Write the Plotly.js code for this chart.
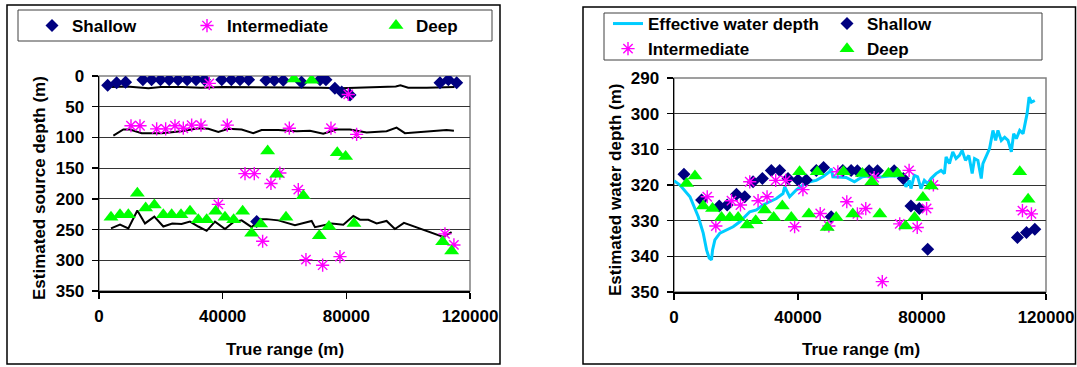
<!DOCTYPE html>
<html><head><meta charset="utf-8">
<script src="https://cdn.plot.ly/plotly-3.0.1.min.js"></script>
<style>html,body{margin:0;padding:0;background:#fff}#chart{width:1077px;height:367px}</style>
</head><body><div id="chart"></div>
<script>
// ---------- Left panel: estimated source depth ----------
const shallowL_x = [2800, 5700, 8600, 14200, 17000, 19900, 22700, 25600, 28500, 31400, 34100, 39700, 42800, 45600, 48400, 51000, 54000, 56700, 59600, 65500, 71500, 73400, 76300, 78500, 81200, 110300, 113000, 115700];
const shallowL_y = [15, 11, 10, 6, 6, 6, 6, 6, 6, 6, 6, 6, 6, 6, 6, 237, 7, 7, 7, 10, 6, 6, 20, 26, 31, 11, 6, 11];

const interL_x = [10350, 13260, 18650, 21560, 24580, 27270, 29970, 32990, 35680, 38600, 41500, 47220, 50230, 52930, 55620, 58500, 61560, 64460, 66940, 72340, 75030, 77940, 80630, 83330, 111900, 114800];
const interL_y = [81, 81, 86, 86, 81, 85, 80, 80, 12, 209, 80, 159, 159, 269, 175, 158, 85, 185, 299, 308, 85, 294, 30, 95, 257, 275];

const deepL_x = [3880, 6790, 9490, 12400, 15090, 17900, 20800, 23500, 26520, 29430, 32120, 34820, 37730, 40750, 43550, 46460, 49370, 52280, 54550, 57460, 60480, 63060, 66080, 68780, 71250, 74380, 77070, 79770, 82470, 111150, 114060];
const deepL_y = [230, 226, 226, 191, 215, 210, 226, 226, 226, 220, 234, 234, 220, 230, 234, 220, 256, 241, 122, 160, 230, 5, 195, 7, 260, 245, 125, 131, 240, 270, 285];

const modelShallow_x = [4000, 9000, 16000, 20000, 27000, 33000, 40000, 47000, 53000, 60000, 66000, 72000, 78000, 84000, 90000, 96000, 97500, 100000, 106000, 112000, 115000];
const modelShallow_y = [18, 17, 20, 18, 18, 19, 18, 18, 19, 18, 18, 19, 20, 19, 19, 17, 15, 19, 19, 19, 18];

const modelInter_x = [4640, 7870, 10000, 13800, 20270, 26700, 32120, 35360, 38600, 41800, 46140, 49900, 52600, 58000, 63920, 68230, 72540, 76850, 81160, 86550, 93020, 96250, 98950, 107000, 112400, 114800];
const modelInter_y = [97, 87, 87, 93, 93, 90, 85, 86, 91, 86, 87, 93, 88, 88, 90, 89, 94, 87, 87, 92, 90, 84, 93, 90, 88, 89];

const modelDeep_x = [3880, 6790, 9490, 12400, 14880, 17900, 20800, 23700, 26700, 29430, 32120, 34820, 37510, 40750, 43440, 46140, 49370, 52070, 54220, 58000, 63380, 68780, 69860, 75250, 79020, 82260, 84420, 87110, 89810, 93020, 95720, 98630, 111350, 114050];
const modelDeep_y = [248, 242, 248, 219, 240, 229, 245, 240, 241, 237, 245, 252, 237, 249, 238, 235, 246, 233, 233, 235, 243, 236, 246, 240, 242, 228, 234, 234, 240, 236, 249, 239, 262, 254];

// ---------- Right panel: estimated water depth ----------
const effective_x = [0, 1930, 5150, 7830, 9430, 10500, 11360, 12100, 12440, 13190, 14800, 16940, 19080, 21230, 22830, 24440, 26590, 28730, 30870, 33020, 35160, 35700, 37300, 39450, 41590, 43740, 45880, 48030, 50170, 50700, 51240, 53380, 55520, 58210, 60780, 62940, 65100, 67260, 69420, 72120, 73740, 74820, 75900, 76440, 77520, 78600, 79670, 80750, 81830, 82910, 84530, 86150, 87230, 87770, 88850, 89930, 91000, 92080, 92950, 94030, 95110, 96190, 96950, 98030, 99110, 99650, 100730, 101800, 102880, 103750, 104500, 105580, 106660, 107740, 108820, 109570, 110440, 111520, 112600, 113140, 113900, 114540, 115300, 116380];
const effective_y = [318.8, 320, 323.3, 328.9, 333.5, 338.2, 340.5, 341, 338.2, 335.4, 333.5, 332.6, 331.7, 330.3, 328.9, 327.5, 327, 325.6, 324.7, 323.8, 322.4, 320.5, 323.3, 321.4, 320, 319.1, 318.7, 317.7, 316.3, 315.4, 317.7, 317.7, 317.9, 319.1, 317.7, 317.5, 317.9, 317.7, 317.5, 317.5, 318.2, 320.5, 318.7, 321, 317.3, 317.7, 321, 318.7, 319.6, 318.2, 316.8, 315.9, 316.8, 312.1, 314, 310.7, 312.6, 311.7, 310.3, 313.1, 311.7, 316.8, 312.6, 313.1, 318.2, 314, 312.1, 309.8, 304.7, 307.5, 304.7, 307.5, 306.6, 307.5, 310.7, 305.6, 307, 304.7, 305.6, 302.8, 300, 295.4, 296.8, 296.3];

const shallowR_x = [3200, 8900, 14600, 17150, 20150, 22830, 25500, 28500, 31400, 34100, 36770, 40000, 42660, 45900, 48240, 50700, 54460, 57140, 59160, 62940, 65640, 71030, 73950, 76440, 79130, 81830, 110780, 113700, 116400];
const shallowR_y = [317, 324.2, 325.9, 325.6, 322.6, 323.3, 319.1, 318.2, 315.9, 315.9, 318.2, 318.6, 318.6, 315.9, 315.1, 328.9, 315.9, 315.9, 316, 316, 316, 316, 318.2, 325.9, 326.6, 338, 334.7, 333.3, 332.4];

const interR_x = [10720, 13500, 18550, 21440, 24440, 27120, 30020, 32800, 36020, 38910, 41590, 47170, 49960, 52850, 55740, 59160, 61860, 64560, 67190, 72820, 75840, 78460, 81480, 83670, 112400, 115300];
const interR_y = [323.3, 331.5, 324.4, 325.6, 319.1, 324.4, 323.3, 318.7, 318.7, 331.7, 321.3, 328, 331.5, 316.3, 324.7, 328.1, 326.6, 317.9, 347.1, 330.9, 315.9, 331.9, 326.6, 320, 327.2, 328.1];

const deepR_x = [4070, 6750, 9430, 12430, 15330, 18000, 20690, 23580, 26370, 29270, 32160, 34950, 37840, 40520, 43520, 46200, 49420, 52310, 54670, 57670, 60780, 63800, 66400, 69200, 72100, 74690, 77600, 80290, 82920, 111530, 114230];
const deepR_y = [319.6, 317.5, 325.9, 326.6, 329.1, 329.1, 329.1, 331.2, 330, 327, 329.1, 325.9, 329.1, 316.3, 328.1, 316.3, 331.9, 329.1, 316.3, 328.1, 316.8, 319.1, 328.1, 316.8, 316.8, 331.5, 329.1, 323.5, 320.3, 316.3, 324];

const xTicks = [0, 40000, 80000, 120000];
const xTickText = ['0', '40000', '80000', '120000'];

// ---------- styling ----------
const FONT = 'Liberation Sans, Arial, sans-serif';
const fnt = (s) => ({family: FONT, size: s, color: '#000', weight: 'bold'});
const NAVY = '#000080', MAG = '#FF00FF', GREEN = '#00FF00', CYAN = '#00CCFF';
const mShallow = {symbol: 'diamond', size: 10, color: NAVY};
const mInter = {symbol: 'asterisk-open', size: 11, color: MAG, line: {color: MAG, width: 1.4}};
const mDeep = {symbol: 'triangle-up', size: 13, color: GREEN};
const blackLine = {color: '#000', width: 2};

const traces = [
  {x: modelShallow_x, y: modelShallow_y, mode: 'lines', line: blackLine, showlegend: false, xaxis: 'x', yaxis: 'y'},
  {x: modelInter_x, y: modelInter_y, mode: 'lines', line: blackLine, showlegend: false, xaxis: 'x', yaxis: 'y'},
  {x: modelDeep_x, y: modelDeep_y, mode: 'lines', line: blackLine, showlegend: false, xaxis: 'x', yaxis: 'y'},
  {x: shallowL_x, y: shallowL_y, mode: 'markers', name: 'Shallow', marker: mShallow, xaxis: 'x', yaxis: 'y', legend: 'legend'},
  {x: interL_x, y: interL_y, mode: 'markers', name: 'Intermediate', marker: mInter, xaxis: 'x', yaxis: 'y', legend: 'legend2'},
  {x: deepL_x, y: deepL_y, mode: 'markers', name: 'Deep', marker: mDeep, xaxis: 'x', yaxis: 'y', legend: 'legend3'},

  {x: effective_x, y: effective_y, mode: 'lines', name: 'Effective water depth', line: {color: CYAN, width: 3}, xaxis: 'x2', yaxis: 'y2', legend: 'legend4'},
  {x: shallowR_x, y: shallowR_y, mode: 'markers', name: 'Shallow', marker: mShallow, xaxis: 'x2', yaxis: 'y2', legend: 'legend5'},
  {x: interR_x, y: interR_y, mode: 'markers', name: 'Intermediate', marker: mInter, xaxis: 'x2', yaxis: 'y2', legend: 'legend4'},
  {x: deepR_x, y: deepR_y, mode: 'markers', name: 'Deep', marker: mDeep, xaxis: 'x2', yaxis: 'y2', legend: 'legend5'}
];

const W = 1077, H = 367;
const px = (v) => v / W, py = (v) => 1 - v / H;

const xCommon = {
  range: [0, 120000], tickvals: xTicks, ticktext: xTickText, ticks: 'outside', ticklen: 6, tickwidth: 1.5, tickcolor: '#000',
  showline: true, linecolor: '#000', linewidth: 1.5, showgrid: false, zeroline: false, tickfont: fnt(17), ticklabelstandoff: 3
};
const yCommon = {
  ticks: 'outside', ticklen: 6, tickwidth: 1.5, tickcolor: '#000', showline: true, linecolor: '#000', linewidth: 1.5,
  showgrid: true, gridcolor: '#333', gridwidth: 1, zeroline: false, tickfont: fnt(17), ticklabelstandoff: 4
};

const legBase = {bgcolor: 'rgba(0,0,0,0)', borderwidth: 0, font: fnt(17), xanchor: 'left', yanchor: 'middle', xref: 'paper', yref: 'paper'};

const layout = {
  width: W, height: H, margin: {l: 0, r: 0, t: 0, b: 0}, paper_bgcolor: '#fff', plot_bgcolor: '#fff',
  xaxis: Object.assign({}, xCommon, {domain: [px(99), px(470)], anchor: 'y'}),
  yaxis: Object.assign({}, yCommon, {domain: [py(291), py(76)], range: [350, 0], tickvals: [0, 50, 100, 150, 200, 250, 300, 350], anchor: 'x'}),
  xaxis2: Object.assign({}, xCommon, {domain: [px(674), px(1046)], anchor: 'y2'}),
  yaxis2: Object.assign({}, yCommon, {domain: [py(292), py(78)], range: [350, 290], tickvals: [290, 300, 310, 320, 330, 340, 350], anchor: 'x2'}),
  legend: Object.assign({}, legBase, {x: px(32), y: py(26)}),
  legend2: Object.assign({}, legBase, {x: px(187), y: py(26)}),
  legend3: Object.assign({}, legBase, {x: px(376), y: py(26)}),
  legend4: Object.assign({}, legBase, {x: px(608), y: py(36.5), tracegroupgap: 0}),
  legend5: Object.assign({}, legBase, {x: px(827), y: py(36.5), tracegroupgap: 0}),
  shapes: [
    {type: 'rect', xref: 'paper', yref: 'paper', x0: px(7), x1: px(500), y0: py(364), y1: py(5), line: {color: '#000', width: 1.5}},
    {type: 'rect', xref: 'paper', yref: 'paper', x0: px(583), x1: px(1075.5), y0: py(364), y1: py(7), line: {color: '#000', width: 1.5}},
    {type: 'rect', xref: 'paper', yref: 'paper', x0: px(18), x1: px(492), y0: py(41), y1: py(10), line: {color: '#404040', width: 1}},
    {type: 'rect', xref: 'paper', yref: 'paper', x0: px(604), x1: px(1042), y0: py(60), y1: py(13), line: {color: '#404040', width: 1}},
    {type: 'rect', xref: 'x domain', yref: 'y domain', x0: 0, x1: 1, y0: 0, y1: 1, line: {color: '#808080', width: 1.5}, layer: 'below'},
    {type: 'rect', xref: 'x2 domain', yref: 'y2 domain', x0: 0, x1: 1, y0: 0, y1: 1, line: {color: '#808080', width: 1.5}, layer: 'below'}
  ],
  annotations: [
    {text: 'True range (m)', xref: 'paper', yref: 'paper', x: px(285), y: py(349), xanchor: 'center', yanchor: 'middle', showarrow: false, font: fnt(17)},
    {text: 'True range (m)', xref: 'paper', yref: 'paper', x: px(861), y: py(349), xanchor: 'center', yanchor: 'middle', showarrow: false, font: fnt(17)},
    {text: 'Estimated source depth (m)', xref: 'paper', yref: 'paper', x: px(39), y: py(188), xanchor: 'center', yanchor: 'middle', textangle: -90, showarrow: false, font: fnt(17)},
    {text: 'Estimated water depth (m)', xref: 'paper', yref: 'paper', x: px(615), y: py(190), xanchor: 'center', yanchor: 'middle', textangle: -90, showarrow: false, font: fnt(17)}
  ]
};

Plotly.newPlot('chart', traces, layout, {staticPlot: true, displayModeBar: false});
</script>
</body></html>
